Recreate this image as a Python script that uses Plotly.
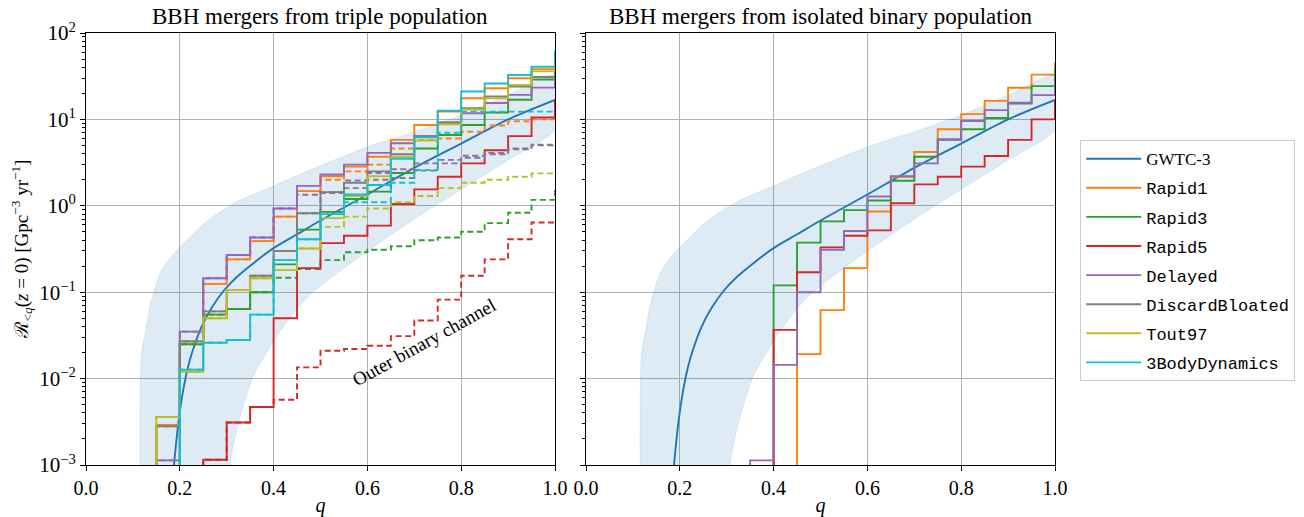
import plotly.graph_objects as go

# ---------------- data ----------------
BIN_LEFT = [0.15, 0.20, 0.25, 0.30, 0.35, 0.40, 0.45, 0.50, 0.55, 0.60,
            0.65, 0.70, 0.75, 0.80, 0.85, 0.90, 0.95, 1.00]
FLOOR = 1e-5

# triple population, all channels (solid)
T_RAPID1 = [0.0029, 0.027, 0.125, 0.24, 0.39, 0.75, 1.48, 2.2, 2.84, 3.7, 5.8, 8.6, 12.3, 17.6, 22.9, 30, 38, 57]
T_RAPID3 = [None, 0.025, 0.055, 0.064, 0.1, 0.21, 0.53, 0.85, 1.2, 1.46, 2.4, 4.6, 6.6, 8.6, 12, 16.9, 29, 45]
T_RAPID5 = [None, None, 0.00115, 0.0031, 0.0047, 0.05, 0.19, 0.37, 0.45, 0.59, 1.05, 1.55, 2.17, 3.1, 4.4, 6.4, 10.5, 17]
T_DELAYED = [0.00113, 0.035, 0.145, 0.27, 0.43, 0.93, 1.7, 2.3, 3.0, 4.1, 5.3, 6.4, 9.0, 11.8, 15.5, 19.2, 23.3, 32]
T_DISCARD = [0.0028, 0.027, 0.06, 0.106, 0.155, 0.3, 0.82, 1.44, 1.85, 2.5, 3.95, 6.4, 9.3, 13.5, 18.4, 24, 31, 45]
T_TOUT97 = [0.0036, 0.012, 0.05, 0.106, 0.145, 0.18, 0.32, 0.72, 1.3, 2.2, 3.7, 5.7, 8.8, 13, 17.6, 25, 36, 50]
T_3BODY = [None, 0.0127, 0.026, 0.028, 0.055, 0.235, 0.41, 0.8, 1.35, 1.74, 3.5, 6.2, 12.6, 21, 26, 32.6, 40.7, 63]

# triple population, outer binary channel (dashed)
O_RAPID1 = [0.0029, 0.027, 0.125, 0.24, 0.39, 0.75, 1.48, 2.0, 2.5, 3.0, 4.6, 5.8, 6.0, 7.2, 8.5, 9.5, 10, 10]
O_RAPID3 = [None, 0.025, 0.055, 0.064, 0.1, 0.147, 0.185, 0.235, 0.29, 0.31, 0.34, 0.4, 0.43, 0.5, 0.63, 0.83, 1.17, 1.66]
O_RAPID5 = [None, None, 0.00115, 0.0031, 0.0047, 0.0057, 0.0135, 0.021, 0.022, 0.024, 0.031, 0.047, 0.082, 0.155, 0.24, 0.41, 0.64, 0.64]
O_DELAYED = [0.00113, 0.035, 0.145, 0.27, 0.43, 0.93, 1.34, 1.4, 1.96, 2.4, 2.65, 3.1, 3.4, 3.6, 4.1, 4.6, 5.1, 5.1]
O_DISCARD = [0.0028, 0.027, 0.06, 0.106, 0.155, 0.3, 0.82, 1.44, 1.6, 2.0, 2.1, 2.55, 3.1, 3.8, 3.95, 4.5, 5.0, 5.0]
O_TOUT97 = [0.0036, 0.012, 0.05, 0.106, 0.145, 0.18, 0.32, 0.57, 0.75, 0.93, 1.1, 1.3, 1.6, 1.85, 2.0, 2.17, 2.37, 2.37]
O_3BODY = [None, 0.0127, 0.026, 0.028, 0.055, 0.235, 0.41, 0.8, 1.1, 1.1, 1.85, 2.6, 7.0, 12.3, 12.3, 12.3, 12.3, 12.3]

# isolated binary population
I_RAPID1 = [None, None, None, None, None, None, 0.0192, 0.062, 0.19, 0.86, 2.17, 4.2, 7.7, 11.5, 16.4, 23.2, 33, 46]
I_RAPID3 = [None, None, None, None, None, 0.12, 0.375, 0.66, 0.89, 1.15, 1.95, 3.7, 5.8, 7.7, 10.4, 15.3, 24.3, 39]
I_RAPID5 = [None, None, None, None, None, 0.0366, 0.17, 0.33, 0.45, 0.52, 1.07, 1.77, 2.17, 2.84, 3.77, 5.8, 10, 16.7]
I_DELAYED = [None, None, None, None, 0.00113, 0.0144, 0.1, 0.31, 0.51, 1.28, 2.2, 3.1, 5.9, 9.6, 12.8, 15.6, 19.1, 28]

# GWTC-3 median and 90% band
GWTC_Q = [0.1876, 0.197, 0.2075, 0.218, 0.2286, 0.2466, 0.268, 0.2936, 0.3215, 0.357,
          0.4, 0.45, 0.5, 0.55, 0.6, 0.7, 0.8, 0.9, 1.0]
GWTC_V = [0.001, 0.0031, 0.0075, 0.014, 0.022, 0.040, 0.066, 0.104, 0.150, 0.217,
          0.324, 0.468, 0.676, 0.955, 1.35, 2.75, 5.25, 10.0, 16.8]
BAND_UP_Q = [0.118, 0.129, 0.1365, 0.158, 0.18, 0.2, 0.257, 0.321, 0.4, 0.478, 0.6, 0.7, 0.8, 0.9, 1.0]
BAND_UP_V = [0.019, 0.04, 0.069, 0.166, 0.25, 0.33, 0.66, 1.11, 1.7, 2.6, 4.8, 7.2, 11.2, 19, 32.6]
BAND_LO_Q = [0.307, 0.3215, 0.3567, 0.4015, 0.442, 0.478, 0.55, 0.6, 0.7, 0.8, 0.9, 1.0]
BAND_LO_V = [0.001, 0.0026, 0.0107, 0.028, 0.0575, 0.094, 0.19, 0.3, 0.7, 1.55, 3.4, 7.6]

NAMES = ["Rapid1", "Rapid3", "Rapid5", "Delayed", "DiscardBloated", "Tout97", "3BodyDynamics"]
COLORS = ["#ff7f0e", "#2ca02c", "#d62728", "#9467bd", "#7f7f7f", "#bcbd22", "#17becf"]
TRIPLE = [T_RAPID1, T_RAPID3, T_RAPID5, T_DELAYED, T_DISCARD, T_TOUT97, T_3BODY]
OUTER = [O_RAPID1, O_RAPID3, O_RAPID5, O_DELAYED, O_DISCARD, O_TOUT97, O_3BODY]
ISOLATED = [I_RAPID1, I_RAPID3, I_RAPID5, I_DELAYED, None, None, None]

TITLE_L = "BBH mergers from triple population"
TITLE_R = "BBH mergers from isolated binary population"
SERIF = "Liberation Serif"
MONO = "Liberation Mono"
BLUE = "#1f77b4"
LW = 1.9


def step_xy(vals):
    idx = [i for i, v in enumerate(vals) if v is not None]
    xs = [BIN_LEFT[idx[0]]] + [BIN_LEFT[i] for i in idx]
    ys = [FLOOR] + [vals[i] for i in idx]
    return xs, ys


fig = go.Figure()

for xa, ya in (("x", "y"), ("x2", "y2")):
    bx = [BAND_UP_Q[0]] + BAND_UP_Q + BAND_LO_Q[::-1] + [BAND_LO_Q[0]]
    by = [FLOOR] + BAND_UP_V + BAND_LO_V[::-1] + [FLOOR]
    fig.add_trace(go.Scatter(x=bx, y=by, fill="toself", mode="lines", line_shape="spline",
                             fillcolor="rgba(31,119,180,0.15)",
                             line=dict(color="rgba(31,119,180,0.12)", width=1, smoothing=0.6),
                             showlegend=False, hoverinfo="skip", xaxis=xa, yaxis=ya))
    fig.add_trace(go.Scatter(x=GWTC_Q, y=GWTC_V, mode="lines", line_shape="spline",
                             line=dict(color=BLUE, width=LW, smoothing=0.9),
                             name='<span style="font-family:Liberation Serif">GWTC-3</span>',
                             legendgroup="gwtc", showlegend=(xa == "x"),
                             xaxis=xa, yaxis=ya))

for name, col, tv, ov, iv in zip(NAMES, COLORS, TRIPLE, OUTER, ISOLATED):
    xs, ys = step_xy(tv)
    fig.add_trace(go.Scatter(x=xs, y=ys, mode="lines", line_shape="hv",
                             line=dict(color=col, width=LW), name=name,
                             legendgroup=name, showlegend=True, xaxis="x", yaxis="y"))
    xs, ys = step_xy(ov)
    fig.add_trace(go.Scatter(x=xs, y=ys, mode="lines", line_shape="hv",
                             line=dict(color=col, width=LW, dash="6px,3.5px"), name=name,
                             legendgroup=name, showlegend=False, xaxis="x", yaxis="y"))
    if iv is not None:
        xs, ys = step_xy(iv)
        fig.add_trace(go.Scatter(x=xs, y=ys, mode="lines", line_shape="hv",
                                 line=dict(color=col, width=LW), name=name,
                                 legendgroup=name, showlegend=False, xaxis="x2", yaxis="y2"))

YT = [1e-3, 1e-2, 1e-1, 1, 10, 100]
YTT = ["10<sup>−3</sup>", "10<sup>−2</sup>", "10<sup>−1</sup>", "10<sup>0</sup>",
       "10<sup>1</sup>", "10<sup>2</sup>"]
minor_vals = [m * d for d in (1e-3, 1e-2, 1e-1, 1, 10) for m in range(2, 10)]

common_x = dict(range=[0, 1], tickvals=[0, 0.2, 0.4, 0.6, 0.8, 1.0],
                ticktext=["0.0", "0.2", "0.4", "0.6", "0.8", "1.0"],
                showgrid=True, gridcolor="#b0b0b0", gridwidth=1, zeroline=False,
                ticks="outside", ticklen=5, tickcolor="black", showline=True,
                linecolor="black", linewidth=1, mirror=True, automargin=False,
                tickfont=dict(family=SERIF, size=20, color="black"),
                title=dict(text="<i>q</i>", font=dict(family=SERIF, size=20, color="black"), standoff=6))
common_y = dict(type="log", range=[-3, 2], tickvals=YT, ticktext=YTT,
                showgrid=True, gridcolor="#b0b0b0", gridwidth=1, zeroline=False,
                ticks="outside", ticklen=5, tickcolor="black", showline=True,
                linecolor="black", linewidth=1, mirror=True, automargin=False,
                minor=dict(tickvals=minor_vals, ticks="outside", ticklen=3,
                           tickcolor="black", showgrid=False),
                tickfont=dict(family=SERIF, size=21, color="black"))

fig.update_layout(
    width=1304, height=517,
    margin=dict(l=86, r=249, t=33, b=52, autoexpand=False),
    paper_bgcolor="white", plot_bgcolor="white",
    xaxis=dict(domain=[0, 0.484], anchor="y", **common_x),
    xaxis2=dict(domain=[0.516, 1], anchor="y2", **common_x),
    yaxis=dict(domain=[0, 1], anchor="x",
               title=dict(text="ℛ<sub>&lt;<i>q</i></sub>(<i>z</i> = 0) [Gpc<sup>−3</sup> yr<sup>−1</sup>]",
                          font=dict(family=SERIF, size=19, color="black"), standoff=5),
               **common_y),
    yaxis2=dict(domain=[0, 1], anchor="x2", matches="y", showticklabels=False, **common_y),
    showlegend=True,
    legend=dict(x=1.026, xanchor="left", y=0.752, yanchor="top",
                font=dict(family=MONO, size=17, color="black"),
                bordercolor="#cccccc", borderwidth=1, bgcolor="white",
                tracegroupgap=4, traceorder="grouped", itemwidth=55),
    annotations=[
        dict(text=TITLE_L, x=0.5, xref="x domain", y=1, yref="paper", yanchor="bottom",
             showarrow=False, yshift=2, font=dict(family=SERIF, size=23, color="black")),
        dict(text=TITLE_R, x=0.5, xref="x2 domain", y=1, yref="paper", yanchor="bottom",
             showarrow=False, yshift=2, font=dict(family=SERIF, size=23, color="black")),
        dict(text="Outer binary channel", x=0.72, xref="x", y=-1.584, yref="y",
             showarrow=False, textangle=-29,
             font=dict(family=SERIF, size=19, color="black")),
    ],
)

fig.write_html("out.html", config={"displayModeBar": False},
               post_script="document.body.style.margin='0';document.body.style.overflow='hidden';")
